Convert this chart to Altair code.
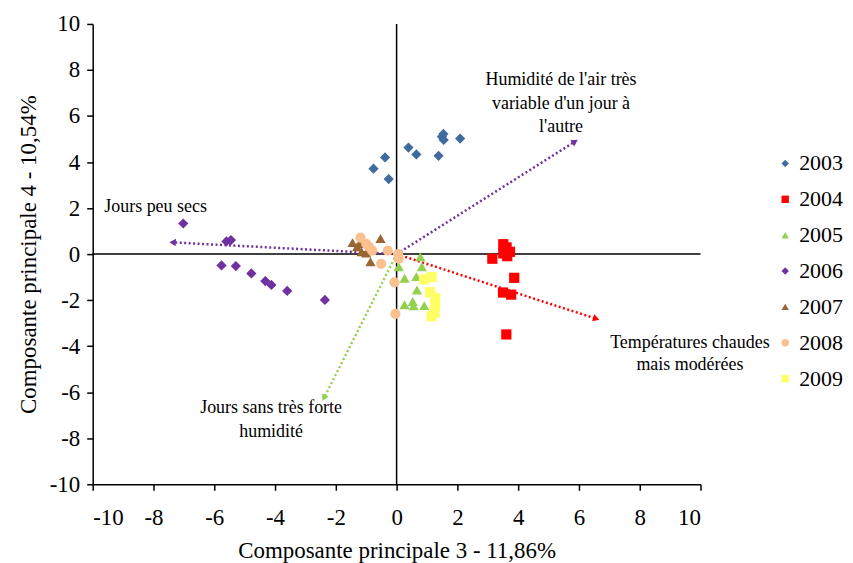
import altair as alt
import pandas as pd
import math

# ---- data ----
years = ["2003", "2004", "2005", "2006", "2007", "2008", "2009"]
colors = ["#3F6B9E", "#FF0000", "#92D050", "#7030A0", "#996633", "#FAC090", "#FFFF66"]
shapes = ["diamond", "square", "triangle-up", "diamond", "triangle-up", "circle", "square"]

x2003 = [-0.76, -0.38, -0.26, 0.39, 0.65, 1.38, 1.54, 1.49, 1.55, 2.09]
y2003 = [3.71, 4.20, 3.26, 4.63, 4.33, 4.27, 5.22, 5.10, 4.96, 5.02]

x2004 = [3.51, 3.62, 3.73, 3.51, 3.64, 3.15, 3.87, 3.50, 3.77, 3.61]
y2004 = [0.43, 0.29, 0.10, 0.03, -0.09, -0.20, -1.03, -1.67, -1.76, -3.49]

x2005 = [0.78, 0.83, 0.07, 0.26, 0.65, 0.67, 0.26, 0.53, 0.56, 0.91]
y2005 = [-0.12, -0.55, -0.55, -1.05, -0.98, -1.56, -2.20, -2.06, -2.25, -2.24]

x2006 = [-7.02, -5.60, -5.45, -5.76, -5.29, -4.78, -4.32, -4.12, -3.60, -2.36]
y2006 = [1.33, 0.55, 0.61, -0.49, -0.52, -0.84, -1.17, -1.34, -1.60, -1.99]

x2007 = [-1.45, -1.30, -1.15, -1.00, -0.86, -0.53, -1.22]
y2007 = [0.50, 0.32, 0.10, 0.05, -0.33, 0.68, 0.45]

x2008 = [-1.19, -1.00, -0.90, -0.80, -0.51, -0.29, 0.05, 0.07, -0.07, -0.04]
y2008 = [0.72, 0.45, 0.30, 0.15, -0.42, 0.15, 0.00, -0.20, -1.23, -2.60]

x2009 = [0.90, 1.15, 1.10, 1.27, 1.27, 1.25, 1.15]
y2009 = [-1.10, -1.00, -1.65, -1.90, -2.20, -2.55, -2.70]

arrow_names = ["Humidité variable", "Jours peu secs", "Températures", "Jours sans forte humidité"]
arrow_x = [5.87, -7.37, 6.57, -2.39]
arrow_y = [4.89, 0.51, -2.81, -6.25]
arrow_colors = ["#7030A0", "#7030A0", "#FF0000", "#92D050"]

label_lines = ["Humidité de l'air très", "variable d'un jour à", "l'autre",
               "Jours peu secs",
               "Températures chaudes", "mais modérées",
               "Jours sans très forte", "humidité"]
label_x = [5.41, 5.41, 5.41, -7.93, 9.65, 9.65, -4.13, -4.13]
label_y = [7.58, 6.54, 5.54, 2.05, -3.85, -4.80, -6.67, -7.71]

xs = [x2003, x2004, x2005, x2006, x2007, x2008, x2009]
ys = [y2003, y2004, y2005, y2006, y2007, y2008, y2009]

rows = []
for yr, xv, yv in zip(years, xs, ys):
    for a, b in zip(xv, yv):
        rows.append({"year": yr, "x": a, "y": b})
pts = pd.DataFrame(rows)

PXX = 610 / 20
PXY = 462 / 20
line_rows = []
head_rows = []
for n, ax, ay, c in zip(arrow_names, arrow_x, arrow_y, arrow_colors):
    line_rows.append({"name": n, "x": 0.0, "y": 0.0, "c": c, "o": 0})
    line_rows.append({"name": n, "x": ax, "y": ay, "c": c, "o": 1})
    ang = math.degrees(math.atan2(ax * PXX, ay * PXY)) % 360
    head_rows.append({"name": n, "x": ax, "y": ay, "c": c, "ang": ang})
lines = pd.DataFrame(line_rows)
heads = pd.DataFrame(head_rows)

labels = pd.DataFrame({"t": label_lines, "x": label_x, "y": label_y})

zero = pd.DataFrame({"x": [-10.0, 0.0], "x2": [10.0, 0.0], "y": [0.0, -10.0], "y2": [0.0, 10.0]})

FONT = "Liberation Serif"
xscale = alt.Scale(domain=[-10, 10], nice=False)
yscale = alt.Scale(domain=[-10, 10], nice=False)
ticks = list(range(-10, 11, 2))

xaxis = alt.Axis(values=ticks, title="Composante principale 3 - 11,86%", grid=False,
                 tickSize=6, labelPadding=16, titlePadding=10, labelExpr="'' + datum.value",
                 labelFont=FONT, labelFontSize=23, titleFont=FONT, titleFontSize=23)
yaxis = alt.Axis(values=ticks, title="Composante principale 4 - 10,54%", grid=False,
                 tickSize=6, labelPadding=7, titlePadding=9, labelExpr="'' + datum.value",
                 labelFont=FONT, labelFontSize=23, titleFont=FONT, titleFontSize=23)

base_x = alt.X("x:Q", scale=xscale, axis=xaxis)
base_y = alt.Y("y:Q", scale=yscale, axis=yaxis)

zero_rules = alt.Chart(zero).mark_rule(color="black", strokeWidth=1.5).encode(
    x=alt.X("x:Q", scale=xscale, axis=xaxis), x2="x2:Q",
    y=alt.Y("y:Q", scale=yscale, axis=yaxis), y2="y2:Q")

arrow_lines = alt.Chart(lines).mark_line(strokeDash=[2, 2.5], strokeWidth=2.5).encode(
    x=base_x, y=base_y, detail="name:N", order="o:Q",
    color=alt.Color("c:N", scale=None))

arrow_heads = alt.Chart(heads).mark_point(shape="triangle-up", filled=True, size=55, opacity=1).encode(
    x=base_x, y=base_y, angle=alt.Angle("ang:Q", scale=None),
    color=alt.Color("c:N", scale=None))

leg = alt.Legend(title=None, orient="none", legendX=684, legendY=129, labelFont=FONT,
                 labelFontSize=22, labelColor="black", symbolSize=55, rowPadding=14,
                 symbolStrokeWidth=0, labelOffset=3, labelLimit=200)

points = alt.Chart(pts).mark_point(filled=True, size=105, opacity=1, strokeWidth=0).encode(
    x=base_x, y=base_y,
    color=alt.Color("year:N", scale=alt.Scale(domain=years, range=colors), legend=leg),
    shape=alt.Shape("year:N", scale=alt.Scale(domain=years, range=shapes), legend=leg))

texts = alt.Chart(labels).mark_text(font=FONT, fontSize=18, color="black", align="center",
                                    baseline="middle").encode(
    x=base_x, y=base_y, text="t:N")

chart = alt.layer(zero_rules, arrow_lines, arrow_heads, points, texts).properties(
    width=610, height=462,
    autosize=alt.AutoSizeParams(type="none"),
    padding={"left": 85, "top": 15, "right": 145, "bottom": 78},
).configure_view(stroke=None).configure_axis(
    domainColor="black", domainWidth=1.5, tickColor="black", tickWidth=1.5,
    labelFont=FONT, labelFontSize=23, labelColor="black",
    titleFont=FONT, titleFontSize=23, titleFontWeight="normal", titleColor="black"
).configure_legend(labelFont=FONT)

chart.save("out.html", embed_options={"renderer": "svg", "actions": False})
